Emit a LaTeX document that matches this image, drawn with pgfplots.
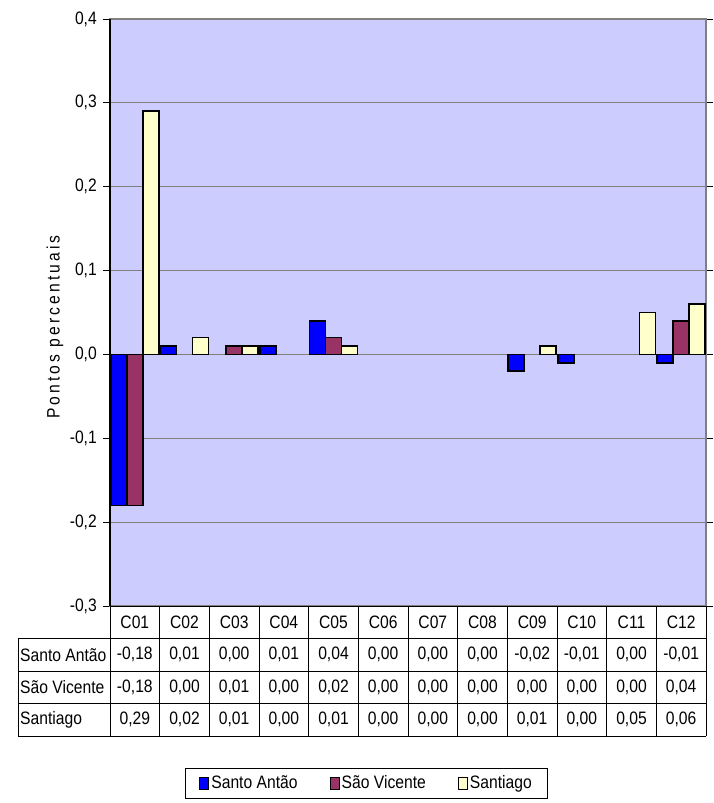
\documentclass[border=0pt]{standalone}
\usepackage{fontspec}
\setmainfont{Liberation Sans}[FakeStretch=0.87]
\newfontfamily\spaced{Liberation Sans}[FakeStretch=0.87, LetterSpace=17]
\usepackage{pgfplots}
\usepackage{pgfplotstable}
\pgfplotsset{compat=1.18}

\definecolor{bg}{HTML}{CCCCFF}
\definecolor{sa}{HTML}{0000FF}
\definecolor{sv}{HTML}{993366}
\definecolor{st}{HTML}{FFFFCC}
\definecolor{grd}{HTML}{808080}

% diferenças por classe, pontos percentuais
\pgfplotstableread{
x  santoantao  saovicente  santiago
1  -0.18  -0.18  0.29
2   0.01   0.00  0.02
3   0.00   0.01  0.01
4   0.01   0.00  0.00
5   0.04   0.02  0.01
6   0.00   0.00  0.00
7   0.00   0.00  0.00
8   0.00   0.00  0.00
9  -0.02   0.00  0.01
10 -0.01   0.00  0.00
11  0.00   0.00  0.05
12 -0.01   0.04  0.06
}\dados

\begin{document}
\fontsize{18}{21}\selectfont
\begin{tikzpicture}
  \path[use as bounding box] (-110pt,-197pt) rectangle (603pt,606pt);
  \begin{axis}[
      at={(0pt,0pt)}, anchor=south west,
      scale only axis,
      width=596pt, height=587pt,
      xmin=0.5, xmax=12.5,
      ymin=-0.3, ymax=0.4,
      xtick=\empty,
      ytick={-0.3,-0.2,-0.1,0,0.1,0.2,0.3,0.4},
      yticklabel style={
          font=\fontsize{18}{21}\selectfont,
          /pgf/number format/.cd, fixed, fixed zerofill, precision=1,
          use comma, assume math mode=true},
      tick align=outside,
      major tick length=7pt,
      ytick style={black, line width=0.8pt},
      ymajorgrids=true,
      grid style={grd, line width=0.9pt},
      axis background/.style={fill=bg},
      axis line style={grd, line width=1.2pt},
      ybar=0pt,
      bar width=16pt,
      y filter/.expression={y==0 ? nan : y},
      unbounded coords=discard,
      legend columns=3,
      legend style={
          at={(0.4304,-0.3024)}, anchor=center,
          draw=black, line width=0.8pt,
          font=\fontsize{18}{21}\selectfont,
          inner xsep=14pt, inner ysep=5pt,
          /tikz/every even column/.append style={column sep=30pt},
        },
      legend image code/.code={
          \draw[#1, line width=1.1pt] (0pt,-6pt) rectangle (9pt,6pt);},
    ]
    \addplot[draw=black, line width=1.6pt, fill=sa] table[x=x, y=santoantao] {\dados};
    \addplot[draw=black, line width=1.6pt, fill=sv] table[x=x, y=saovicente] {\dados};
    \addplot[draw=black, line width=1.6pt, fill=st] table[x=x, y=santiago] {\dados};
    \legend{Santo Antão, São Vicente, Santiago}
  \end{axis}

  % eixo vertical
  \draw[black, line width=1.1pt] (0pt,0pt) -- (0pt,587pt);
  \node[rotate=90] at (-55pt,279pt) {\spaced Pontos percentuais};

  % tabela de dados
  \def\w{49.6667pt}
  \draw[black, line width=0.9pt] (0pt,0pt) -- (596pt,0pt);
  \foreach \y in {-32.5,-65,-97.5,-130}
    \draw[black, line width=0.9pt] (-92pt,\y pt) -- (596pt,\y pt);
  \draw[black, line width=0.9pt] (-92pt,-32.5pt) -- (-92pt,-130pt);
  \foreach \k in {0,...,12}
    \draw[black, line width=0.9pt] (\k*\w,0pt) -- (\k*\w,-130pt);
  \foreach \c [count=\k] in {C01,C02,C03,C04,C05,C06,C07,C08,C09,C10,C11,C12}
    \node at ({(\k-0.5)*\w},-16.25pt) {\c};
  \node[anchor=west, inner sep=0pt] at (-90pt,-48.75pt) {Santo Antão};
  \node[anchor=west, inner sep=0pt] at (-90pt,-81.25pt) {São Vicente};
  \node[anchor=west, inner sep=0pt] at (-90pt,-113.75pt) {Santiago};
  \foreach \v [count=\k] in {{-0,18},{0,01},{0,00},{0,01},{0,04},{0,00},{0,00},{0,00},{-0,02},{-0,01},{0,00},{-0,01}}
    \node at ({(\k-0.5)*\w},-48.75pt) {\v};
  \foreach \v [count=\k] in {{-0,18},{0,00},{0,01},{0,00},{0,02},{0,00},{0,00},{0,00},{0,00},{0,00},{0,00},{0,04}}
    \node at ({(\k-0.5)*\w},-81.25pt) {\v};
  \foreach \v [count=\k] in {{0,29},{0,02},{0,01},{0,00},{0,01},{0,00},{0,00},{0,00},{0,01},{0,00},{0,05},{0,06}}
    \node at ({(\k-0.5)*\w},-113.75pt) {\v};
\end{tikzpicture}
\end{document}
